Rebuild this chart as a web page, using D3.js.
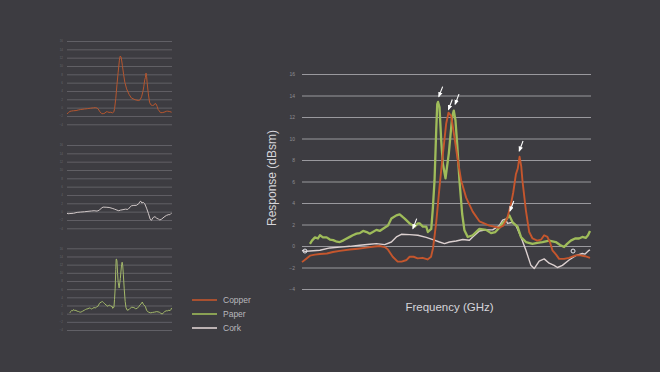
<!DOCTYPE html>
<html>
<head>
<meta charset="utf-8">
<script src="https://cdn.jsdelivr.net/npm/d3@7"></script>
<style>
  html, body { margin: 0; padding: 0; background: #3d3c41; }
  svg { display: block; font-family: "Liberation Sans", Arial, sans-serif; }
</style>
</head>
<body>
<svg id="chart"></svg>
<script>
// y ticks shared by every panel
const yTicks = [16, 14, 12, 10, 8, 6, 4, 2, 0, -2, -4];
const freqDomain = [1, 30];

// Copper
const copperFreq = [1.0, 1.4, 1.8, 2.3, 2.8, 3.5, 4.1, 4.8, 5.8, 6.6, 7.47, 8.3, 8.8, 9.3, 9.6, 10.1, 10.6, 11.0, 11.5, 11.8,
  12.2, 12.6, 13.1, 13.6, 13.95, 14.15, 14.47, 14.8, 15.13, 15.47, 15.7, 15.97, 16.3, 16.63, 16.97, 17.47, 18.13, 18.8, 19.8, 20.8,
  21.2, 21.6, 21.97, 22.2, 22.47, 22.65, 22.83, 23.0, 23.13, 23.47, 23.8, 24.13, 24.6, 25.0, 25.3, 25.63, 25.9, 26.13, 26.5, 26.8,
  27.3, 27.8, 28.47, 28.8, 29.4, 29.9];
const copperVals = [-1.5, -1.2, -0.9, -0.8, -0.75, -0.7, -0.56, -0.45, -0.33, -0.25, -0.15, -0.05, 0, -0.1, -0.3, -1.0, -1.45, -1.45, -1.3, -1.0,
  -1.0, -1.15, -1.1, -1.25, -1.0, -0.2, 2.2, 5.5, 8.5, 11.4, 12.4, 12.1, 10.1, 8.0, 6.1, 4.5, 3.2, 2.3, 1.9, 1.7,
  1.9, 2.6, 3.9, 5.0, 6.7, 7.2, 8.3, 7.4, 6.0, 3.3, 1.3, 0.7, 0.5, 0.6, 1.0, 0.85, 0.3, -0.4, -0.8, -1.2,
  -1.2, -1.1, -0.87, -0.85, -0.95, -1.1];

// Paper
const paperFreq = [1.8, 2.0, 2.3, 2.6, 2.8, 3.1, 3.47, 3.8, 4.13, 4.5, 4.8, 5.1, 5.3, 5.8, 6.1, 6.47, 6.8, 7.13, 7.5, 7.8,
  8.1, 8.47, 8.8, 9.13, 9.63, 9.97, 10.47, 10.8, 11.1, 11.3, 11.8, 12.3, 12.63, 12.8, 13.13, 13.47, 13.63, 13.97, 14.13, 14.3,
  14.47, 14.57, 14.65, 14.8, 14.97, 15.13, 15.4, 15.73, 16.07, 16.23, 16.4, 16.57, 16.8, 17.07, 17.3, 17.63, 18.13, 18.8, 19.47, 19.97,
  20.4, 20.8, 21.1, 21.47, 21.8, 22.13, 22.63, 22.97, 23.47, 24.13, 24.6, 25.13, 25.8, 26.47, 26.9, 27.3, 27.6, 27.97, 28.4, 28.8,
  29.13, 29.47, 29.7, 29.9];
const paperVals = [0.2, 0.5, 0.8, 0.7, 1.0, 0.8, 0.8, 0.6, 0.55, 0.4, 0.37, 0.5, 0.6, 0.85, 1.0, 1.15, 1.2, 1.4, 1.3, 1.15,
  1.3, 1.5, 1.4, 1.6, 1.9, 2.55, 2.85, 2.95, 2.7, 2.55, 2.1, 1.8, 2.1, 2.1, 1.8, 1.8, 1.3, 1.6, 3.5, 6.1,
  10.8, 13.2, 13.4, 12.9, 9.8, 7.7, 6.3, 8.6, 12.0, 12.6, 11.7, 9.5, 6.1, 3.0, 1.46, 0.84, 1.0, 1.6, 1.5, 1.2,
  1.3, 1.7, 2.1, 2.4, 2.85, 2.2, 1.8, 0.84, 0.37, 0.2, 0.3, 0.37, 0.5, 0.37, 0.1, -0.1, 0.2, 0.5, 0.7, 0.7,
  0.84, 0.75, 1.0, 1.4];

// Cork
const corkFreq = [1.0, 1.3, 1.8, 2.8, 3.8, 4.8, 5.8, 6.8, 7.8, 8.47, 9.3, 9.97, 10.47, 10.97, 11.8, 12.63, 13.47, 14.13, 14.8, 15.3,
  15.8, 16.47, 17.13, 17.8, 18.13, 18.8, 19.47, 20.13, 20.8, 21.13, 21.4, 21.63, 22.13, 22.47, 22.97, 23.47, 23.97, 24.3, 24.8, 25.3,
  25.8, 26.3, 26.63, 27.13, 27.8, 28.47, 29.13, 29.4, 29.8, 29.9];
const corkVals = [-0.4, -0.5, -0.46, -0.4, -0.18, -0.1, -0.03, 0.07, 0.16, 0.22, 0.13, 0.37, 0.84, 1.09, 1.06, 1.0, 0.8, 0.6, 0.37, 0.22,
  0.37, 0.47, 0.6, 0.53, 0.84, 1.4, 1.5, 1.5, 1.9, 2.4, 2.5, 2.1, 2.2, 1.9, 0.84, -0.4, -1.8, -2.1, -1.4, -1.2,
  -1.6, -1.8, -2.0, -1.8, -1.3, -0.9, -0.7, -0.75, -0.4, -0.35];

// peak markers (arrow tips) and end markers
const arrowFreq = [14.73, 15.7, 16.37, 22.8, 21.87, 12.13];
const arrowVals = [13.9, 12.7, 13.2, 8.84, 3.26, 1.62];
const markFreq = [1.3, 28.2];
const markVals = [-0.47, -0.47];

const seriesNames = ["Copper", "Paper", "Cork"];
const seriesColors = ["#c5562d", "#9fbc5a", "#dcd0d0"];

const W = 660, H = 372;
const svg = d3.select("#chart").attr("width", W).attr("height", H);

svg.append("rect").attr("width", W).attr("height", H).attr("fill", "#3d3c41");

svg.append("defs").append("marker")
  .attr("id", "arrow")
  .attr("viewBox", "0 -5 10 10")
  .attr("refX", 8)
  .attr("refY", 0)
  .attr("markerWidth", 5)
  .attr("markerHeight", 5)
  .attr("orient", "auto")
  .append("path")
  .attr("d", "M0,-4L10,0L0,4")
  .attr("fill", "#ffffff");

function series(freq, vals) {
  return freq.map((f, i) => ({f, v: vals[i]}))
}

const copper = series(copperFreq, copperVals)
const paper = series(paperFreq, paperVals)
const cork = series(corkFreq, corkVals)

function panel(opts) {
  const x = d3.scaleLinear().domain(freqDomain).range([opts.x0, opts.x1])
  const y = d3.scaleLinear().domain([-4, 16]).range([opts.y0, opts.y1])
  const g = svg.append("g")

  // gridlines
  g.append("g")
    .attr("transform", `translate(${opts.x0},0)`)
    .call(d3.axisLeft(y).tickValues(yTicks).tickSize(-(opts.x1 - opts.x0)).tickPadding(opts.pad))
    .call(a => a.select(".domain").remove())
    .call(a => a.selectAll("line").attr("stroke", opts.grid).attr("stroke-width", opts.gridW))
    .call(a => a.selectAll("text").attr("fill", opts.label).attr("font-size", opts.fs))

  const line = d3.line().x(d => x(d.f)).y(d => y(d.v)).curve(d3.curveLinear)

  opts.lines.forEach(l => {
    g.append("path")
      .datum(l.data)
      .attr("fill", "none")
      .attr("stroke", l.color)
      .attr("stroke-width", l.width)
      .attr("stroke-linejoin", "round")
      .attr("d", line)
  })

  return {g, x, y}
}

// main chart
const main = panel({
  x0: 302, x1: 591, y0: 289, y1: 74, pad: 7, fs: 5,
  grid: "#9a999e", gridW: 1, label: "#8e8d92",
  lines: [
    {data: cork, color: seriesColors[2], width: 1.4},
    {data: paper, color: seriesColors[1], width: 2.3},
    {data: copper, color: seriesColors[0], width: 1.9}
  ]
})

// arrows pointing at the peaks
const arrows = arrowFreq.map((f, i) => ({f, v: arrowVals[i]}))
main.g.append("g").selectAll("line")
  .data(arrows)
  .enter().append("line")
  .attr("x1", d => main.x(d.f) + 3.8)
  .attr("y1", d => main.y(d.v) - 10)
  .attr("x2", d => main.x(d.f))
  .attr("y2", d => main.y(d.v))
  .attr("stroke", "#ffffff")
  .attr("stroke-width", 1.1)
  .attr("marker-end", "url(#arrow)")

const marks = markFreq.map((f, i) => ({f, v: markVals[i]}))
main.g.append("g").selectAll("circle")
  .data(marks)
  .enter().append("circle")
  .attr("cx", d => main.x(d.f))
  .attr("cy", d => main.y(d.v))
  .attr("r", 2)
  .attr("fill", "none")
  .attr("stroke", "#e8e8ee")
  .attr("stroke-width", 1)

// small panels on the left
const small = {x0: 67, x1: 172, pad: 4, fs: 3, grid: "#6b6a70", gridW: 0.8, label: "#66656a"}

panel(Object.assign({}, small, {y0: 124.3, y1: 41,
  lines: [{data: copper, color: "#b5562f", width: 1}]}))
panel(Object.assign({}, small, {y0: 228.3, y1: 145,
  lines: [{data: cork, color: "#cfc6c6", width: 1}]}))
panel(Object.assign({}, small, {y0: 330, y1: 248.3,
  lines: [{data: paper, color: "#a3b86a", width: 1}]}))

// axis titles
svg.append("text")
  .attr("transform", "translate(276,178) rotate(-90)")
  .attr("text-anchor", "middle")
  .attr("fill", "#d6d5da")
  .attr("font-size", 12)
  .text("Response (dBsm)")

svg.append("text")
  .attr("x", 449.5)
  .attr("y", 311)
  .attr("text-anchor", "middle")
  .attr("fill", "#d6d5da")
  .attr("font-size", 11.5)
  .text("Frequency (GHz)")

// legend
const legend = svg.append("g").selectAll("g")
  .data(seriesNames)
  .enter().append("g")
  .attr("transform", (d, i) => `translate(192,${300 + i * 14})`)

legend.append("line")
  .attr("x1", 0).attr("x2", 25)
  .attr("stroke", (d, i) => seriesColors[i])
  .attr("stroke-width", 1.6)

legend.append("text")
  .attr("x", 31)
  .attr("y", 3)
  .attr("fill", "#b9b8bd")
  .attr("font-size", 8.5)
  .text(d => d)
</script>
</body>
</html>
